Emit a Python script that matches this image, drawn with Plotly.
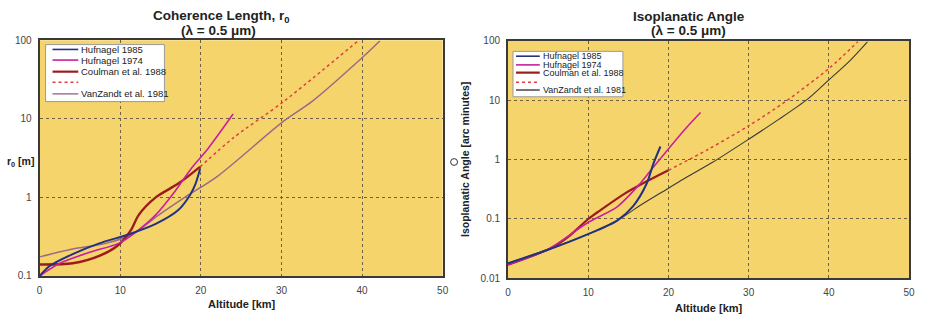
import plotly.graph_objects as go

W, H = 926, 324

# ---------------- data: Coherence length r0 [m] vs altitude [km] ----------------
r0_h85_alt = [0, 1.2, 4.1, 7.4, 11.1, 14.4, 17.2, 18.7, 19.3, 19.9]
r0_h85_val = [0.1, 0.133, 0.19, 0.26, 0.34, 0.46, 0.69, 1.09, 1.45, 2.3]

r0_h74_alt = [0, 2.5, 6.2, 9.8, 11.9, 14.4, 16.8, 18.9, 20.9, 24.0]
r0_h74_val = [0.1, 0.145, 0.2, 0.26, 0.36, 0.6, 1.2, 2.4, 4.2, 11.5]

r0_c88_alt = [0, 4.1, 7.4, 9.8, 11.3, 12.3, 14.4, 17.2, 19.9]
r0_c88_val = [0.14, 0.145, 0.18, 0.25, 0.38, 0.6, 1.0, 1.5, 2.45]

r0_c88x_alt = [19.9, 24.1, 30.3, 39.5]
r0_c88x_val = [2.45, 5.8, 16.7, 98]

r0_vz_alt = [0, 4.1, 8.2, 11.5, 14.8, 18.0, 22.1, 30.3, 33.8, 40.0, 42.2]
r0_vz_val = [0.175, 0.22, 0.26, 0.34, 0.6, 1.0, 1.87, 9.4, 16.7, 60, 98]

# ---------------- data: Isoplanatic angle [arc min] vs altitude [km] ----------------
th_h85_alt = [0, 4.9, 9.9, 13.6, 15.6, 17.3, 18.1, 19.0]
th_h85_val = [0.018, 0.030, 0.055, 0.094, 0.165, 0.40, 0.84, 1.66]

th_h74_alt = [0, 5.0, 10.0, 13.6, 16.5, 18.1, 22.2, 24.0]
th_h74_val = [0.017, 0.031, 0.088, 0.16, 0.40, 0.74, 3.4, 6.2]

th_c88_alt = [0, 5.3, 7.5, 10.0, 11.5, 14.4, 17.3, 20.0]
th_c88_val = [0.017, 0.032, 0.05, 0.1, 0.14, 0.26, 0.43, 0.66]

th_c88x_alt = [20.0, 25.0, 30.0, 34.6, 40.1, 43.6]
th_c88x_val = [0.66, 1.5, 3.7, 9.5, 35, 96]

th_vz_alt = [0, 5.0, 10.0, 13.6, 16.5, 20.0, 22.2, 25.5, 30.0, 33.7, 37.3, 40.0, 42.6, 44.8]
th_vz_val = [0.018, 0.031, 0.056, 0.094, 0.17, 0.33, 0.5, 0.9, 2.2, 4.7, 10.3, 22, 46, 96]

legend_labels = ["Hufnagel 1985", "Hufnagel 1974", "Coulman et al. 1988", "", "VanZandt et al. 1981"]
x_ticks = [0, 10, 20, 30, 40, 50]
y_ticks_left = [0.1, 1, 10, 100]
y_ticks_right = [0.01, 0.1, 1, 10, 100]

# ---------------- styles ----------------
BLUE = "#24337f"
MAG = "#c8209e"
DRED = "#9b1c1c"
DOT = "#e0403a"
VZL = "#9a6b86"
VZR = "#3a3a3a"
BG = "#f6d46c"
GRID = "#6e6040"
FONT = "Liberation Sans, Arial, sans-serif"

fig = go.Figure()

def add(x, y, color, width, xa, ya, dash="solid"):
    fig.add_trace(go.Scatter(x=x, y=y, mode="lines", xaxis=xa, yaxis=ya,
                             line=dict(color=color, width=width, dash=dash, shape="spline", smoothing=0.8),
                             showlegend=False, hoverinfo="skip"))

add(r0_vz_alt, r0_vz_val, VZL, 1.5, "x", "y")
add(r0_c88x_alt, r0_c88x_val, DOT, 1.5, "x", "y", "dot")
add(r0_c88_alt, r0_c88_val, DRED, 2.4, "x", "y")
add(r0_h74_alt, r0_h74_val, MAG, 1.6, "x", "y")
add(r0_h85_alt, r0_h85_val, BLUE, 2.0, "x", "y")

add(th_vz_alt, th_vz_val, VZR, 1.1, "x2", "y2")
add(th_c88x_alt, th_c88x_val, DOT, 1.5, "x2", "y2", "dot")
add(th_c88_alt, th_c88_val, DRED, 2.2, "x2", "y2")
add(th_h74_alt, th_h74_val, MAG, 1.6, "x2", "y2")
add(th_h85_alt, th_h85_val, BLUE, 2.0, "x2", "y2")

def px(x):
    return x / W

def py(y):
    return 1 - y / H

axis_common = dict(showgrid=True, gridcolor=GRID, griddash="dot", gridwidth=1,
                   showline=True, linecolor="#3a3a3a", linewidth=2, mirror=True,
                   zeroline=False, ticks="outside", ticklen=4, tickcolor="rgba(0,0,0,0)",
                   tickfont=dict(family=FONT, size=10, color="#444"))

fig.update_layout(
    width=W, height=H, margin=dict(l=0, r=0, t=0, b=0),
    paper_bgcolor="white", plot_bgcolor=BG, showlegend=False,
    xaxis=dict(domain=[px(37), px(444)], range=[0, 50], tickvals=x_ticks, anchor="y", **axis_common),
    yaxis=dict(domain=[py(280.5), py(36.5)], type="log", range=[-1, 2], tickvals=y_ticks_left,
               ticktext=[str(v) for v in y_ticks_left], anchor="x", **axis_common),
    xaxis2=dict(domain=[px(510), px(915)], range=[0, 50], tickvals=x_ticks, anchor="y2", **axis_common),
    yaxis2=dict(domain=[py(283), py(37)], type="log", range=[-2, 2], tickvals=y_ticks_right,
                ticktext=[str(v) for v in y_ticks_right], anchor="x2", **axis_common),
)

ann = []
shapes = []

def text(x, y, s, size=10, bold=False, anchor="center", angle=0):
    ann.append(dict(x=px(x), y=py(y), xref="paper", yref="paper", text=f"<b>{s}</b>" if bold else s,
                    showarrow=False, xanchor=anchor, yanchor="middle", textangle=angle,
                    font=dict(family=FONT, size=size, color="#222")))

# titles
text(221, 12, "Coherence Length, r<sub>0</sub>", 13.5, True)
text(218, 26, "(λ = 0.5 μm)", 13.5, True)
text(693, 12, "Isoplanatic Angle", 13.5, True)
text(692, 26, "(λ = 0.5 μm)", 13.5, True)
# axis titles
text(241, 310, "Altitude [km]", 11, True)
text(713, 314, "Altitude [km]", 11, True)
text(18, 162, "r<sub>0</sub> [m]", 10.5, True)
text(466, 160, "Isoplanatic Angle [arc minutes]", 10.5, True, angle=-90)

# small circle
shapes.append(dict(type="circle", xref="paper", yref="paper", x0=px(452), x1=px(459), y0=py(166), y1=py(159),
                   line=dict(color="#333", width=1), fillcolor="white"))

# legends (drawn manually)
def legend(box, line_x, ys, colors, widths, dashes, size):
    x0, y0, x1, y1 = box
    shapes.append(dict(type="rect", xref="paper", yref="paper", x0=px(x0), x1=px(x1), y0=py(y1), y1=py(y0),
                       line=dict(color="#9a9a9a", width=1), fillcolor="white", layer="above"))
    for lab, yy, c, w, d in zip(legend_labels, ys, colors, widths, dashes):
        shapes.append(dict(type="line", xref="paper", yref="paper", x0=px(line_x[0]), x1=px(line_x[1]),
                           y0=py(yy), y1=py(yy), line=dict(color=c, width=w, dash=d), layer="above"))
        if lab:
            text(line_x[1] + 1, yy, lab, size, anchor="left")

legend((43, 41, 163, 100), (50, 76), [46, 57, 69, 80, 92],
       [BLUE, MAG, DRED, DOT, VZL], [1.6, 1.6, 2.2, 1.4, 1.4], ["solid", "solid", "solid", "dot", "solid"], 9.5)
legend((515, 48, 626, 95), (518, 542), [53, 62, 70, 80, 88],
       [BLUE, MAG, DRED, DOT, VZR], [1.6, 1.6, 2.2, 1.4, 1.4], ["solid", "solid", "solid", "dot", "solid"], 9)

fig.update_layout(annotations=ann, shapes=shapes)
fig.write_html(
    "out.html",
    config={"displayModeBar": False, "responsive": False},
    post_script=("document.documentElement.style.margin='0';document.documentElement.style.padding='0';"
                 "document.documentElement.style.overflow='hidden';"
                 "document.body.style.margin='0';document.body.style.padding='0';"
                 "document.body.style.overflow='hidden';"),
)
